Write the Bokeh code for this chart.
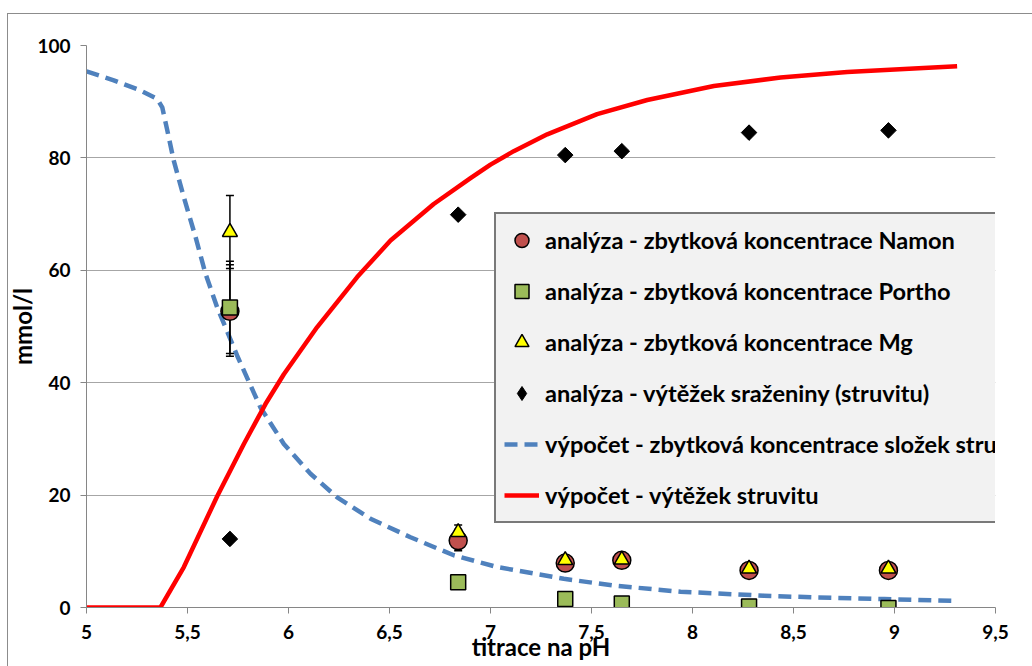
import math
from bokeh.plotting import figure
from bokeh.models import FixedTicker, Legend, LegendItem, InlineStyleSheet
from bokeh.embed import file_html
from bokeh.resources import INLINE

# ---- data ----
ph = [5.71, 6.84, 7.37, 7.65, 8.28, 8.97]
namon = [52.7, 11.9, 7.9, 8.4, 6.6, 6.6]
portho = [53.4, 4.5, 1.5, 0.7, 0.2, -0.1]
mg = [66.8, 13.4, 8.4, 8.5, 6.9, 6.9]
struvite_yield = [12.2, 69.9, 80.5, 81.2, 84.5, 84.9]

err_x = [5.71, 5.71, 5.71, 6.84, 6.84]
err_lo = [44.7, 45.2, 60.3, 10.1, 12.9]
err_hi = [61.6, 61.0, 73.3, 13.9, 14.7]

calc_conc_x = [5.0, 5.135, 5.267, 5.35, 5.375, 5.40, 5.432, 5.482, 5.54, 5.589,
               5.647, 5.746, 5.861, 5.977, 6.109, 6.241, 6.406, 6.604, 6.818,
               7.033, 7.363, 7.611, 7.941, 8.353, 8.6, 8.95, 9.29]
calc_conc_y = [95.4, 93.8, 92.0, 90.5, 89.0, 84.9, 79.5, 73.0, 65.9, 59.4,
               53.4, 44.8, 35.6, 29.1, 23.8, 19.6, 15.8, 12.5, 9.3,
               7.2, 5.1, 3.9, 2.8, 2.1, 1.8, 1.5, 1.2]

calc_yield_x = [5.0, 5.366, 5.482, 5.647, 5.779, 5.886, 5.977, 6.142, 6.340,
                6.505, 6.719, 6.901, 7.0, 7.115, 7.281, 7.528, 7.776, 8.106,
                8.436, 8.766, 9.096, 9.31]
calc_yield_y = [0.0, 0.0, 7.2, 19.8, 29.1, 36.2, 41.5, 49.9, 58.8,
                65.3, 71.8, 76.4, 78.8, 81.2, 84.2, 87.8, 90.3, 92.8,
                94.3, 95.3, 95.9, 96.3]

x_ticks = [5, 5.5, 6, 6.5, 7, 7.5, 8, 8.5, 9, 9.5]
x_tick_labels = ["5", "5,5", "6", "6,5", "7", "7,5", "8", "8,5", "9", "9,5"]
y_ticks = [0, 20, 40, 60, 80, 100]

x_title = "titrace na pH"
y_title = "mmol/l"
labels = [
    "analýza - zbytková koncentrace Namon",
    "analýza - zbytková koncentrace Portho",
    "analýza - zbytková koncentrace Mg",
    "analýza - výtěžek sraženiny (struvitu)",
    "výpočet - zbytková koncentrace složek struvitu",
    "výpočet - výtěžek struvitu",
]

FONT = "Lato"

p = figure(width=1032, height=666, x_range=(5, 9.5), y_range=(0, 100),
           output_backend="svg", toolbar_location=None,
           min_border_left=86, min_border_right=37,
           min_border_top=45, min_border_bottom=59)
p.outline_line_color = None
p.background_fill_color = "white"
p.border_fill_color = "white"

# outer chart-area border (only its top and left edges are inside the picture)
p.stylesheets = [InlineStyleSheet(css=(
    ":host::after { content: ''; position: absolute; left: 7px; top: 13px; "
    "right: 0; bottom: 0; border-top: 1px solid #8C8C8C; "
    "border-left: 1px solid #8C8C8C; pointer-events: none; }"))]

# grid
p.xgrid.grid_line_color = None
p.ygrid.grid_line_color = "#A6A6A6"
p.ygrid.grid_line_width = 1

# axes
for ax in (p.xaxis[0], p.yaxis[0]):
    ax.axis_line_color = "#868686"
    ax.major_tick_line_color = "#868686"
    ax.minor_tick_line_color = None
    ax.major_tick_in = 0
    ax.major_tick_out = 6
    ax.major_label_text_font = FONT
    ax.major_label_text_font_style = "bold"
    ax.major_label_text_font_size = "19px"
    ax.major_label_text_color = "black"
    ax.axis_label_text_font = FONT
    ax.axis_label_text_font_style = "bold"
    ax.axis_label_text_font_size = "24px"
    ax.axis_label_text_color = "black"

p.xaxis.ticker = FixedTicker(ticks=x_ticks)
p.xaxis.major_label_overrides = {t: l for t, l in zip(x_ticks, x_tick_labels)}
p.xaxis.major_label_standoff = 11
p.xaxis.axis_label = x_title
p.xaxis.axis_label_standoff = -10

p.yaxis.ticker = FixedTicker(ticks=y_ticks)
p.yaxis.major_label_standoff = 10
p.yaxis.axis_label = y_title
p.yaxis.axis_label_standoff = -3

# calculated lines
r_conc = p.line(calc_conc_x, calc_conc_y, line_color="#4F81BD", line_width=4.5,
                line_dash="13 7", line_join="round")
r_yield = p.line(calc_yield_x, calc_yield_y, line_color="#FF0000", line_width=4.5,
                 line_join="round")

# error bars
p.segment(x0=err_x, y0=err_lo, x1=err_x, y1=err_hi, line_color="black", line_width=1.5)
p.scatter(err_x, err_lo, marker="dash", size=8, line_color="black", line_width=1.5)
p.scatter(err_x, err_hi, marker="dash", size=8, line_color="black", line_width=1.5)

# measured points
r_namon = p.scatter(ph, namon, marker="circle", size=18, fill_color="#C0504D",
                    line_color="black", line_width=1.5)
r_portho = p.scatter(ph, portho, marker="square", size=15, fill_color="#9BBB59",
                     line_color="black", line_width=1.5)
r_mg = p.scatter(ph, mg, marker="triangle", size=15, fill_color="#FFFF00",
                 line_color="black", line_width=1.5)
# diamond (used for the legend entry) covered by a rotated square of the same colour
r_yld = p.scatter(ph, struvite_yield, marker="diamond", size=14,
                  fill_color="black", line_color="black", line_width=1)
p.scatter(ph, struvite_yield, marker="square", angle=math.pi / 4, size=11,
          fill_color="black", line_color="black", line_width=1)

legend = Legend(items=[
    LegendItem(label=labels[0], renderers=[r_namon]),
    LegendItem(label=labels[1], renderers=[r_portho]),
    LegendItem(label=labels[2], renderers=[r_mg]),
    LegendItem(label=labels[3], renderers=[r_yld]),
    LegendItem(label=labels[4], renderers=[r_conc]),
    LegendItem(label=labels[5], renderers=[r_yield]),
], location=(408, 84))
legend.background_fill_color = "#F2F2F2"
legend.background_fill_alpha = 1
legend.border_line_color = "black"
legend.border_line_width = 2
legend.label_text_font = FONT
legend.label_text_font_style = "bold"
legend.label_text_font_size = "23.6px"
legend.label_text_color = "black"
legend.padding = 8
legend.margin = 0
legend.spacing = 15
legend.label_height = 36
legend.glyph_height = 36
legend.glyph_width = 35
legend.label_standoff = 6
p.add_layout(legend)

open("out.html", "w").write(file_html(p, INLINE))
